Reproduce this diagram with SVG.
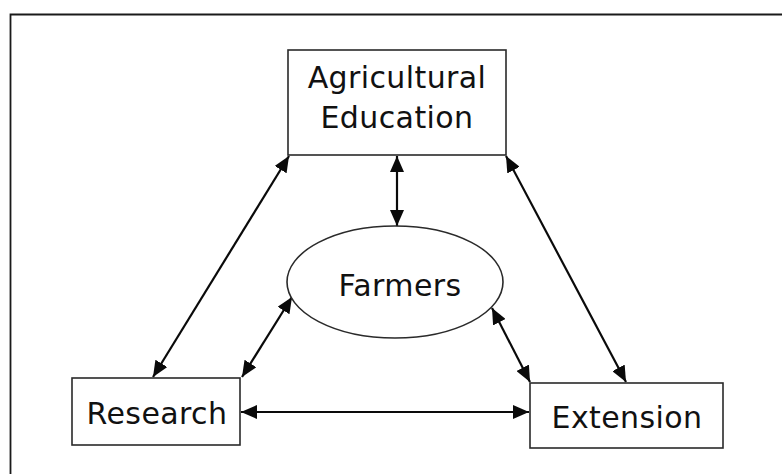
<svg xmlns="http://www.w3.org/2000/svg" width="782" height="474" viewBox="0 0 782 474">
<defs>
<marker id="ah" viewBox="0 0 16 14" refX="16" refY="7" markerWidth="16" markerHeight="14" markerUnits="userSpaceOnUse" orient="auto-start-reverse">
<path d="M0,0 L16,7 L0,14 Z" fill="#0a0a0a"/>
</marker>
</defs>
<style>
.box{fill:#fff;stroke:#2a2a2a;stroke-width:1.6}
.lbl{font-family:"DejaVu Sans",sans-serif;font-size:30px;letter-spacing:0.4px;fill:#111;text-anchor:middle}
.con{stroke:#0a0a0a;stroke-width:2.2;fill:none;marker-start:url(#ah);marker-end:url(#ah)}
</style>
<rect width="782" height="474" fill="#fff"/>
<path d="M10.5,474 V14.5 H782" fill="none" stroke="#1a1a1a" stroke-width="1.8"/>
<g id="connectors">
<line class="con" x1="397" y1="156" x2="397" y2="226"/>
<line class="con" x1="289" y1="156" x2="153" y2="377"/>
<line class="con" x1="506" y1="156" x2="626" y2="382"/>
<line class="con" x1="292" y1="297" x2="242" y2="377"/>
<line class="con" x1="492" y1="308" x2="530" y2="382"/>
<line class="con" x1="241" y1="412" x2="529" y2="412"/>
</g>
<g id="agricultural-education">
<rect class="box" x="288" y="50" width="218" height="105"/>
<text class="lbl" x="397" y="88">Agricultural</text>
<text class="lbl" x="397" y="128">Education</text>
</g>
<g id="farmers">
<ellipse class="box" cx="395" cy="282" rx="108" ry="56"/>
<text class="lbl" x="400" y="296">Farmers</text>
</g>
<g id="research">
<rect class="box" x="72" y="378" width="168" height="67"/>
<text class="lbl" x="157" y="424">Research</text>
</g>
<g id="extension">
<rect class="box" x="530" y="383" width="193" height="65"/>
<text class="lbl" x="627" y="428">Extension</text>
</g>
</svg>
